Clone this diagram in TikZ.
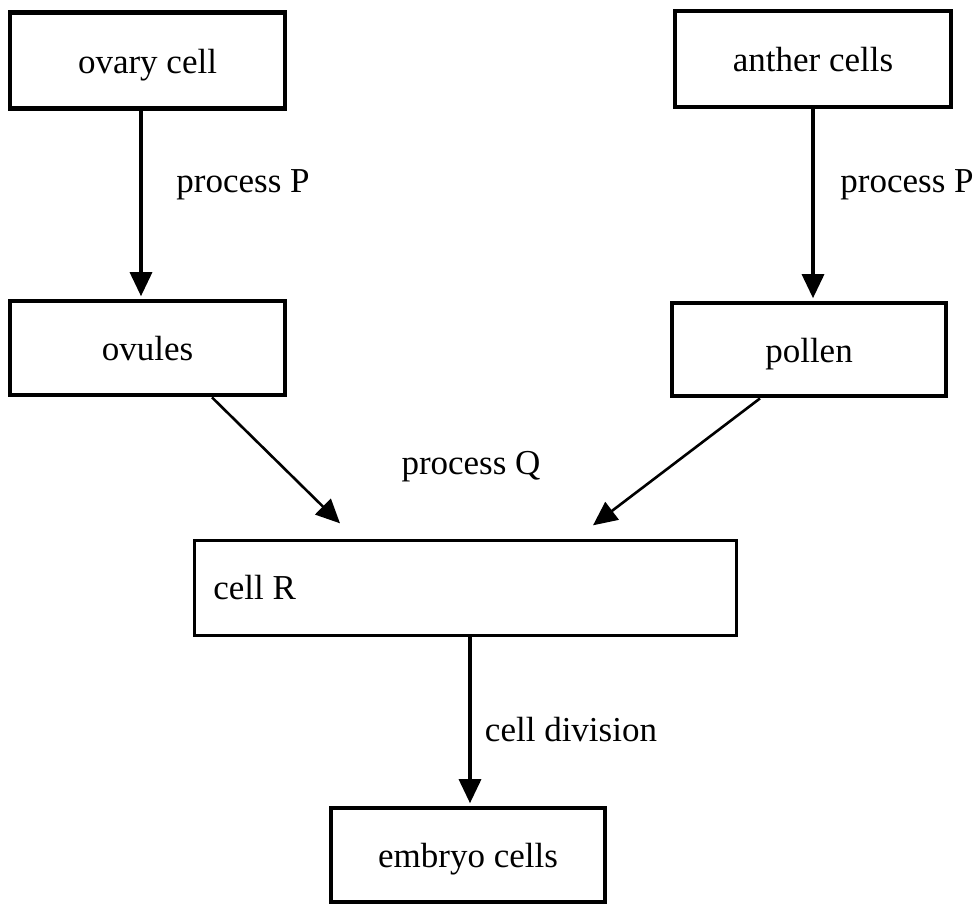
\documentclass[tikz,border=0pt]{standalone}
\usepackage{fontspec}
\setmainfont{Liberation Serif}
\usetikzlibrary{arrows.meta}
\begin{document}
\begin{tikzpicture}[x=0.5pt,y=-0.5pt,
  font=\fontsize{17.5}{20}\selectfont,
  box/.style={draw, line width=2.4pt, inner sep=0pt, text height=12.5pt, text depth=0pt},
  thinbox/.style={draw, line width=1.7pt, inner sep=0pt},
  arr/.style={line width=1.6pt, -{Triangle[length=12pt,width=11pt]}},
  darr/.style={line width=1.3pt, -{Triangle[length=12pt,width=11pt]}},
  lbl/.style={inner sep=0pt}]
\useasboundingbox (0,0) rectangle (978,907);

% boxes
\node[box, minimum width=137.5pt, minimum height=48pt] (ovary) at (147.5,60.5) {ovary cell};
\node[box, minimum width=138pt, minimum height=48pt] (anther) at (813,59) {anther cells};
\node[box, minimum width=137.5pt, minimum height=47pt] (ovules) at (147.5,348) {ovules};
\node[box, minimum width=137pt, minimum height=46.5pt] (pollen) at (809,349.5) {pollen};
\node[thinbox, minimum width=271pt, minimum height=47.5pt] (cellR) at (465.5,588) {};
\node[lbl, anchor=west] (cellRtext) at (213,588) {cell R};
\node[box, minimum width=137pt, minimum height=47pt] (embryo) at (468,855) {embryo cells};

% connectors
\draw[arr] ([xshift=-3.25pt]ovary.south) -- ([xshift=-3.25pt,yshift=1.2pt]ovules.north);
\draw[arr] (anther.south) -- ([xshift=2pt,yshift=1.2pt]pollen.north);
\draw[darr] ([xshift=32.25pt]ovules.south) -- ([xshift=-62.75pt,yshift=7.75pt]cellR.north);
\draw[darr] ([xshift=-24.5pt]pollen.south) -- ([xshift=63.75pt,yshift=6.75pt]cellR.north);
\draw[arr] ([xshift=1pt]embryo.north |- cellR.south) -- ([xshift=1pt,yshift=1.2pt]embryo.north);

% connector labels
\node[lbl] (procP1) at (243,185) {process P};
\node[lbl] (procP2) at (907,185) {process P};
\node[lbl] (procQ) at (471,467) {process Q};
\node[lbl] (division) at (571,730) {cell division};
\end{tikzpicture}
\end{document}
